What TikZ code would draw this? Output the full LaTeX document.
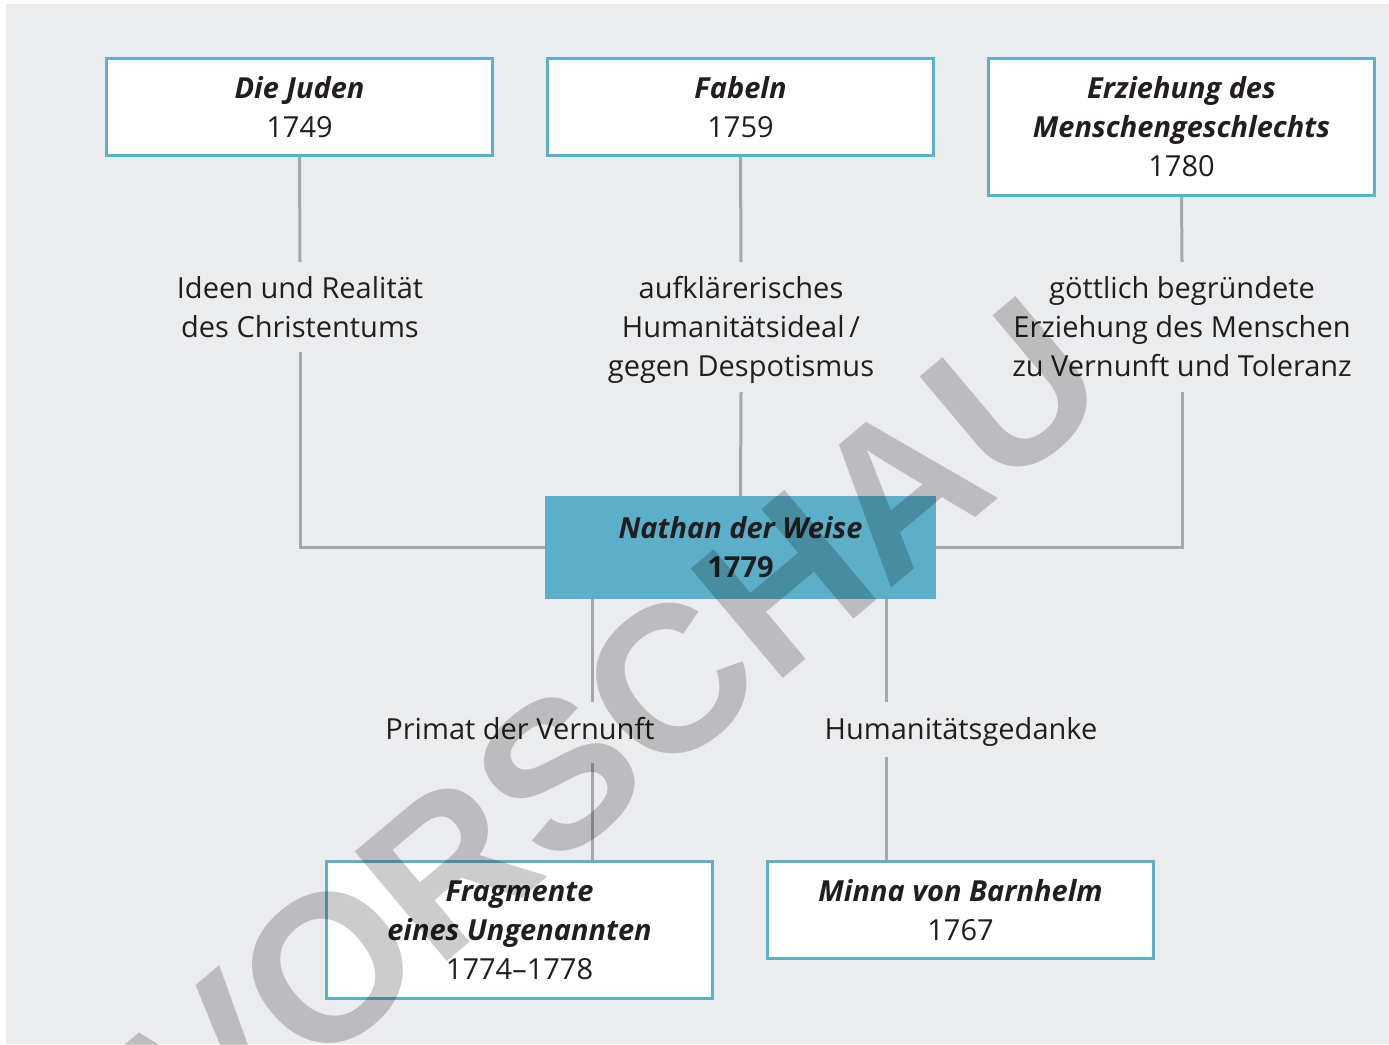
\documentclass[tikz,border=0pt]{standalone}
\usepackage{fontspec}
\setmainfont{Open Sans}
\newfontfamily\wmfont{Liberation Sans}
\definecolor{bgGray}{HTML}{EBECEE}
\definecolor{boxBlue}{HTML}{5DB0CA}
\definecolor{mainBlue}{HTML}{5BAFC8}
\definecolor{lineGray}{HTML}{A6A7A9}
\definecolor{ink}{HTML}{221E1F}
\newcommand\figfont{\fontsize{29}{39}\selectfont}
\begin{document}
\begin{tikzpicture}[x=1pt,y=-1pt,
  workbox/.style={draw=boxBlue, line width=3pt, fill=white, minimum width=386pt,
    inner sep=0pt, align=center, text=ink, font=\figfont},
  mainbox/.style={fill=mainBlue, minimum width=391pt, minimum height=103pt,
    inner sep=0pt, align=center, text=ink, font=\figfont},
  lab/.style={inner sep=0pt, align=center, text=ink, font=\figfont},
  conn/.style={draw=lineGray, line width=3pt},
  wm/.style={text=black, text opacity=0.2, font=\wmfont\bfseries\fontsize{208}{208}\selectfont, inner sep=0pt}
]
\useasboundingbox (0,0) rectangle (1389,1044);
\fill[bgGray] (6,4) rectangle (1389,1044);

% works
\node[workbox, minimum height=97pt] (juden) at (299.5,107) {\textbf{\textit{Die Juden}}\\1749};
\node[workbox, minimum height=97pt] (fabeln) at (740.5,107) {\textbf{\textit{Fabeln}}\\1759};
\node[workbox, minimum height=137pt] (erz) at (1181.5,127) {\textbf{\textit{Erziehung des}}\\\textbf{\textit{Menschengeschlechts}}\\1780};
\node[mainbox] (nathan) at (740.5,547.5) {\textbf{\textit{Nathan der Weise}}\\\textbf{1779}};
\node[workbox, minimum height=137pt] (frag) at (519.5,930) {\textbf{\textit{Fragmente}}\\\textbf{\textit{eines Ungenannten}}\\1774--1778};
\node[workbox, minimum height=97pt] (minna) at (960.5,910) {\textbf{\textit{Minna von Barnhelm}}\\1767};

% labels
\node[lab] (l1) at (300,307.5) {Ideen und Realität\\des Christentums};
\node[lab] (l2) at (741,330) {aufklärerisches\\Humanitätsideal\,/\\gegen Despotismus};
\node[lab] (l3) at (1182,326.5) {göttlich begründete\\Erziehung des Menschen\\zu Vernunft und Toleranz};
\node[lab, anchor=base] (l4) at (520,739) {Primat der Vernunft};
\node[lab, anchor=base] (l5) at (961,739) {Humanitätsgedanke};

% gap ends
\coordinate (a1) at (300,262);
\coordinate (a2) at (300,352);
\coordinate (b1) at (741,262);
\coordinate (b2) at (741,392);
\coordinate (c1) at (1182,262);
\coordinate (c2) at (1182,392);
\coordinate (d0) at (592,599);
\coordinate (d1) at (592,702);
\coordinate (d2) at (592,763);
\coordinate (e0) at (886,599);
\coordinate (e1) at (886,702);
\coordinate (e2) at (886,757);

% connectors
\draw[conn] (juden.south) -- (a1);
\draw[conn] (a2) |- (nathan.west);
\draw[conn] (fabeln.south) -- (b1);
\draw[conn] (b2) -- (nathan.north);
\draw[conn] (erz.south) -- (c1);
\draw[conn] (c2) |- (nathan.east);
\draw[conn] (d0) -- (d1);
\draw[conn] (d2) -- (d2 |- frag.north);
\draw[conn] (e0) -- (e1);
\draw[conn] (e2) -- (e2 |- minna.north);

% watermark
\node[wm, rotate=40] (wmark) at (616,726) {VORSCHAU};
\end{tikzpicture}
\end{document}
